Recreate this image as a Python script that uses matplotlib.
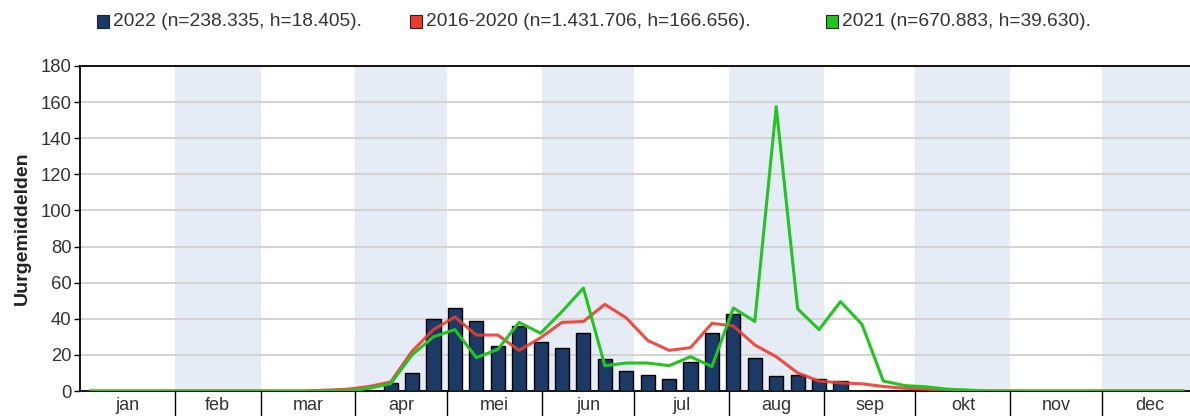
import numpy as np
import matplotlib
matplotlib.use("Agg")
from matplotlib import pyplot as plt
from matplotlib.patches import Rectangle

# weekgegevens (week 1..52)
weeks = list(range(1, 53))

# 2016-2020 gemiddelde
avg_2016_2020 = [0, 0, 0, 0, 0, 0, 0, 0, 0, 0, 0, 0.5, 1, 2.5,
                 5, 22, 34, 41, 31, 31, 22.5, 29.5, 38, 38.5, 48, 40.5,
                 28, 22.5, 24, 37.5, 36, 25.5, 19, 10, 5.5, 4.5, 4, 2.5,
                 1.5, 1, 0.5, 0.2, 0, 0, 0, 0, 0, 0, 0, 0, 0, 0]

# 2021
vals_2021 = [0, 0, 0, 0, 0, 0, 0, 0, 0, 0, 0, 0, 0, 1.5,
             4, 20, 30, 34, 18.5, 23, 38, 32, 44, 57, 14, 15.5,
             15.5, 14, 19, 13.5, 46, 38.5, 157.5, 45.5, 34, 49.5, 37, 5.5,
             3, 2.3, 1, 0.5, 0, 0, 0, 0, 0, 0, 0, 0, 0, 0]

# 2022 (alleen week 15 t/m 36)
weeks_2022 = list(range(15, 37))
vals_2022 = [4.5, 10, 40, 46, 39, 25, 36, 27, 24, 32, 17.5, 11,
             9, 6.5, 16, 32, 42.5, 18.5, 8.5, 9, 6.5, 5.5]

months = ["jan", "feb", "mar", "apr", "mei", "jun",
          "jul", "aug", "sep", "okt", "nov", "dec"]
month_days = [31, 28, 31, 30, 31, 30, 31, 31, 30, 31, 30, 31]

legend_labels = ["2022 (n=238.335, h=18.405).",
                 "2016-2020 (n=1.431.706, h=166.656).",
                 "2021 (n=670.883, h=39.630)."]

plt.rcParams['font.family'] = ['Liberation Sans', 'DejaVu Sans']

fig = plt.figure(figsize=(11.9, 4.16), dpi=100)
ax = fig.add_axes([80 / 1190, 1 - 391 / 416, 1117 / 1190, 325 / 416])

# maandgrenzen in dagen
bounds = np.concatenate([[0], np.cumsum(month_days)])
centers = (bounds[:-1] + bounds[1:]) / 2

# afwisselende achtergrond per maand
for i in range(12):
    if i % 2 == 1:
        ax.axvspan(bounds[i], bounds[i + 1], color="#e6ecf5", lw=0, zorder=0)

# weken naar dag-positie (midden van de week)
x_all = [7 * w - 3.5 for w in weeks]
x_2022 = [7 * w - 3.5 for w in weeks_2022]

ax.bar(x_2022, vals_2022, width=4.6, color="#1b3a66", edgecolor="black",
       linewidth=1, zorder=3)
ax.plot(x_all, avg_2016_2020, color="#ee3b2f", lw=2.2, alpha=0.9, zorder=4)
ax.plot(x_all, vals_2021, color="#22c422", lw=2.2, zorder=5)

ax.set_xlim(0, 365)
ax.set_ylim(0, 180)
ax.set_yticks(range(0, 181, 20))
ax.grid(axis="y", color="#d4d4d4", lw=1.5, zorder=1)
ax.set_axisbelow(True)

# x-as: maandgrenzen als lange streepjes, namen in het midden
ax.set_xticks(bounds[1:-1])
ax.set_xticklabels([])
ax.set_xticks(centers, minor=True)
ax.set_xticklabels(months, minor=True)
ax.tick_params(axis="x", which="major", length=18, width=1, color="black",
               direction="out")
ax.tick_params(axis="x", which="minor", length=0, pad=4, labelsize=13,
               labelcolor="#333333")
ax.tick_params(axis="y", length=4, width=1, labelsize=13.3,
               labelcolor="#333333", pad=2)

for s in ["left", "bottom", "top"]:
    ax.spines[s].set_color("black")
    ax.spines[s].set_linewidth(1.3)
ax.spines["right"].set_visible(False)

ax.set_ylabel("Uurgemiddelden", fontsize=14, fontweight="bold",
              color="#222222", labelpad=7)

# legenda bovenaan
colors = ["#1b3a66", "#ee3b2f", "#22c422"]
sq_x = [97, 410, 826]
for lab, c, px in zip(legend_labels, colors, sq_x):
    fig.patches.append(Rectangle((px / 1190, 1 - 28 / 416), 12 / 1190, 13 / 416,
                                 facecolor=c, edgecolor="#222222", lw=0.8,
                                 transform=fig.transFigure, figure=fig))
    fig.text((px + 16) / 1190, 1 - 21 / 416, lab, fontsize=13.8,
             color="#333333", va="center", ha="left")

plt.savefig("out.png", dpi=100)
